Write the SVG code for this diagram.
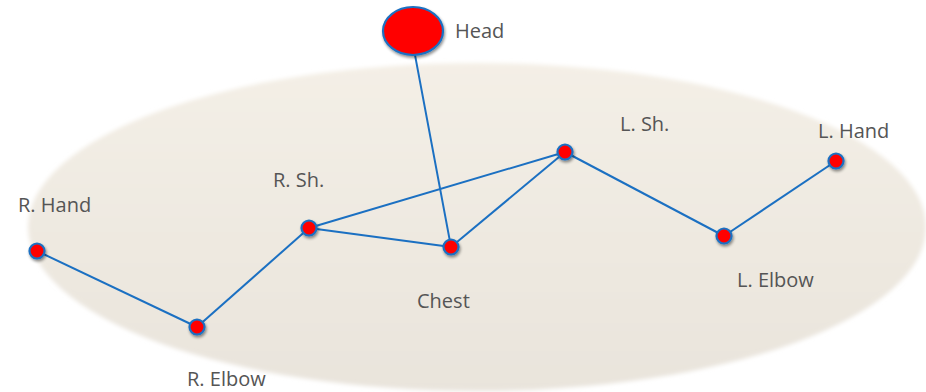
<svg xmlns="http://www.w3.org/2000/svg" width="926" height="392" viewBox="0 0 926 392">
  <style>
    .lbl { font-family: "Open Sans", "Noto Sans", sans-serif; font-size: 20px; fill: #555555; }
    .joint { fill: #ff0000; stroke: #1b70c2; stroke-width: 2.2; filter: url(#shadow); }
    .bone { stroke: #1b70c2; stroke-width: 2; fill: none; }
  </style>
  <defs>
    <linearGradient id="bodyFill" x1="0" y1="0" x2="0" y2="1">
      <stop offset="0" stop-color="#f4efe6"/>
      <stop offset="1" stop-color="#e9e4dc"/>
    </linearGradient>
    <filter id="soft" x="-5%" y="-10%" width="110%" height="120%">
      <feGaussianBlur stdDeviation="2"/>
    </filter>
    <filter id="shadow" x="-50%" y="-50%" width="200%" height="200%">
      <feGaussianBlur in="SourceAlpha" stdDeviation="1.5"/>
      <feOffset dx="1" dy="2" result="b"/>
      <feComponentTransfer><feFuncA type="linear" slope="0.45"/></feComponentTransfer>
      <feMerge><feMergeNode/><feMergeNode in="SourceGraphic"/></feMerge>
    </filter>
  </defs>

  <!-- body area -->
  <ellipse cx="477" cy="227" rx="449" ry="164" fill="url(#bodyFill)" filter="url(#soft)"/>

  <!-- bones -->
  <g id="connectors">
    <line class="bone" x1="37" y1="251" x2="197" y2="327"/>
    <line class="bone" x1="197" y1="327" x2="309" y2="228"/>
    <line class="bone" x1="309" y1="228" x2="565" y2="152"/>
    <line class="bone" x1="309" y1="228" x2="451" y2="247"/>
    <line class="bone" x1="451" y1="247" x2="565" y2="152"/>
    <line class="bone" x1="565" y1="152" x2="724" y2="236"/>
    <line class="bone" x1="724" y1="236" x2="836" y2="161"/>
    <line class="bone" x1="415" y1="55" x2="451" y2="247"/>
  </g>

  <g id="head">
    <ellipse class="joint" cx="413" cy="31" rx="30" ry="24" stroke-width="2.5"/>
    <text class="lbl" x="455" y="38">Head</text>
  </g>
  <g id="r-hand">
    <circle class="joint" cx="37" cy="251" r="7.5"/>
    <text class="lbl" x="18" y="212">R. Hand</text>
  </g>
  <g id="r-elbow">
    <circle class="joint" cx="197" cy="327" r="7.5"/>
    <text class="lbl" x="187" y="386">R. Elbow</text>
  </g>
  <g id="r-sh">
    <circle class="joint" cx="309" cy="228" r="7.5"/>
    <text class="lbl" x="273" y="187">R. Sh.</text>
  </g>
  <g id="chest">
    <circle class="joint" cx="451" cy="247" r="7.5"/>
    <text class="lbl" x="417" y="308">Chest</text>
  </g>
  <g id="l-sh">
    <circle class="joint" cx="565" cy="152" r="7.5"/>
    <text class="lbl" x="620" y="131">L. Sh.</text>
  </g>
  <g id="l-elbow">
    <circle class="joint" cx="724" cy="236" r="7.5"/>
    <text class="lbl" x="737" y="287">L. Elbow</text>
  </g>
  <g id="l-hand">
    <circle class="joint" cx="836" cy="161" r="7.5"/>
    <text class="lbl" x="818" y="138">L. Hand</text>
  </g>
</svg>
